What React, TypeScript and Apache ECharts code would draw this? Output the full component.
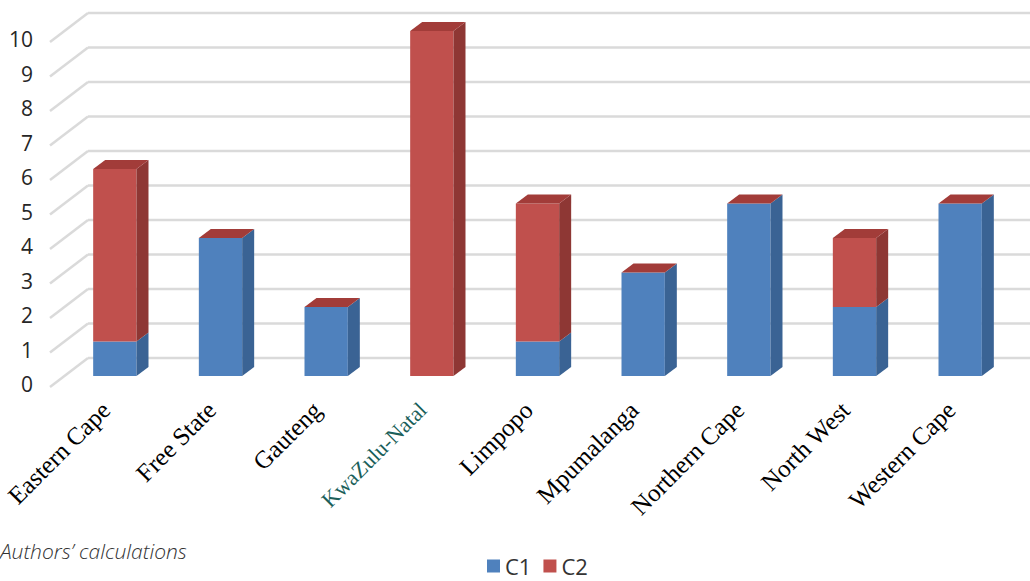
import React, { useEffect, useRef } from "react";
import * as echarts from "echarts";

const categories = [
  "Eastern Cape",
  "Free State",
  "Gauteng",
  "KwaZulu-Natal",
  "Limpopo",
  "Mpumalanga",
  "Northern Cape",
  "North West",
  "Western Cape",
];
const c1Values = [1, 4, 2, 0, 1, 3, 5, 2, 5];
const c2Values = [5, 0, 0, 10, 4, 0, 0, 2, 0];
const yTicks = [0, 1, 2, 3, 4, 5, 6, 7, 8, 9, 10];

const BLUE = "#4f81bd";
const BLUE_SIDE = "#3a6394";
const RED = "#c0504d";
const RED_SIDE = "#8e3734";
const RED_TOP = "#a23c39";
const DX = 12;
const DY = -9;

function segment(api: any, i: number, base: number, top: number, front: string, side: string, drawTop: boolean, topColor: string) {
  const p0 = api.coord([i, base]);
  const p1 = api.coord([i, top]);
  const bw = api.size([1, 0])[0] * 0.41;
  const xl = p0[0] - bw / 2;
  const xr = xl + bw;
  const children: any[] = [];
  if (top > base) {
    children.push({
      type: "rect",
      shape: { x: xl, y: p1[1], width: bw, height: p0[1] - p1[1] },
      style: { fill: front },
    });
    children.push({
      type: "polygon",
      shape: {
        points: [
          [xr, p0[1]],
          [xr + DX, p0[1] + DY],
          [xr + DX, p1[1] + DY],
          [xr, p1[1]],
        ],
      },
      style: { fill: side },
    });
  }
  if (drawTop) {
    children.push({
      type: "polygon",
      shape: {
        points: [
          [xl, p1[1]],
          [xl + DX, p1[1] + DY],
          [xr + DX, p1[1] + DY],
          [xr, p1[1]],
        ],
      },
      style: { fill: topColor },
    });
  }
  return { type: "group", children };
}

export default function App() {
  const ref = useRef<HTMLDivElement>(null);
  useEffect(() => {
    if (!ref.current) return;
    const chart = echarts.init(ref.current, null, { renderer: "svg" });
    const option: any = {
      animation: false,
      backgroundColor: "#ffffff",
      grid: [
        { left: 62, right: 17, top: 31, bottom: 205, containLabel: false },
        // front floor edge (slightly left of the bars) used for the category labels
        { left: 53, right: 26, top: 31, bottom: 205, containLabel: false },
      ],
      legend: {
        left: 482,
        top: 550,
        icon: "rect",
        itemWidth: 13,
        itemHeight: 13,
        itemGap: 12,
        data: ["C1", "C2"],
        textStyle: { fontFamily: "Open Sans", fontSize: 22, lineHeight: 22, color: "#333" },
      },
      xAxis: [
        {
          type: "category",
          gridIndex: 0,
          data: categories,
          axisLine: { show: false },
          axisTick: { show: false },
          axisLabel: { show: false },
        },
        {
          type: "category",
          gridIndex: 1,
          data: categories,
          axisLine: { show: false },
          axisTick: { show: false },
          axisLabel: {
            rotate: 45,
            margin: 30,
            interval: 0,
            fontFamily: "Liberation Serif",
            fontSize: 25,
            color: "#000000",
            formatter: (value: string) =>
              value === "KwaZulu-Natal" ? "{k|" + value + "}" : value,
            rich: {
              k: { fontFamily: "Liberation Serif", fontSize: 22, color: "#1b5f5a" },
            },
          },
        },
      ],
      yAxis: [
        {
          type: "value",
          gridIndex: 0,
          min: 0,
          max: 10,
          interval: 1,
          axisLine: { show: false },
          axisTick: { show: false },
          splitLine: { show: false },
          axisLabel: {
            margin: 29,
            verticalAlign: "top",
            lineHeight: 16,
            fontFamily: "Open Sans",
            fontSize: 21,
            color: "#262626",
          },
        },
        {
          type: "value",
          gridIndex: 1,
          min: 0,
          max: 10,
          interval: 1,
          show: false,
        },
      ],
      graphic: [
        {
          type: "text",
          left: 0,
          top: 540,
          style: {
            text: "Authors\u2019 calculations",
            fontFamily: "Open Sans",
            fontStyle: "italic",
            fontWeight: 300,
            fontSize: 21,
            fill: "#333",
          },
        },
      ],
      series: [
        {
          type: "custom",
          name: "grid",
          silent: true,
          xAxisIndex: 0,
          yAxisIndex: 0,
          data: yTicks.map((v) => [0, v]),
          encode: { x: 0, y: 1 },
          renderItem: (params: any, api: any) => {
            const v = api.value(1);
            const y = api.coord([0, v])[1];
            const cs = params.coordSys;
            const xf = cs.x - 12;
            const xb = cs.x + 26;
            return {
              type: "group",
              children: [
                {
                  type: "line",
                  shape: { x1: xf, y1: y + 11, x2: xb, y2: y - 18 },
                  style: { stroke: "#dadada", lineWidth: 2.5 },
                },
                {
                  type: "line",
                  shape: { x1: xb, y1: y - 18, x2: cs.x + cs.width + 20, y2: y - 18 },
                  style: { stroke: "#dadada", lineWidth: 2.5 },
                },
              ],
            };
          },
          z: 1,
        },
        {
          type: "custom",
          name: "C1",
          xAxisIndex: 0,
          yAxisIndex: 0,
          itemStyle: { color: BLUE },
          data: c1Values.map((v, i) => [i, v]),
          encode: { x: 0, y: 1 },
          renderItem: (params: any, api: any) => {
            const i = api.value(0);
            const v = api.value(1);
            return segment(api, i, 0, v, BLUE, BLUE_SIDE, false, BLUE);
          },
          z: 2,
        },
        {
          type: "custom",
          name: "C2",
          xAxisIndex: 0,
          yAxisIndex: 0,
          itemStyle: { color: RED },
          data: c2Values.map((v, i) => [i, v, c1Values[i]]),
          encode: { x: 0, y: 1 },
          renderItem: (params: any, api: any) => {
            const i = api.value(0);
            const v = api.value(1);
            const base = api.value(2);
            return segment(api, i, base, base + v, RED, RED_SIDE, true, RED_TOP);
          },
          z: 3,
        },
      ],
    };
    chart.setOption(option);
    return () => chart.dispose();
  }, []);
  return (
    <div
      ref={ref}
      style={{ position: "fixed", left: 0, top: 0, width: 1030, height: 581 }}
    />
  );
}
